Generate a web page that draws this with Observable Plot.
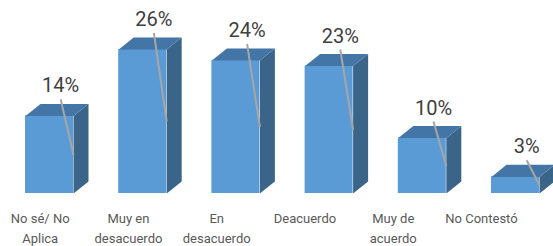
<!DOCTYPE html>
<html>
<head>
<meta charset="utf-8">
<script src="https://cdn.jsdelivr.net/npm/d3@7"></script>
<script src="https://cdn.jsdelivr.net/npm/@observablehq/plot@0.6"></script>
<style>
  html, body { margin: 0; padding: 0; background: #fff; }
  #chart svg { display: block; }
</style>
</head>
<body>
<div id="chart"></div>
<script>
const categories = ["No sé/ No\nAplica", "Muy en\ndesacuerdo", "En\ndesacuerdo", "Deacuerdo", "Muy de\nacuerdo", "No Contestó"];
const values = [14, 26, 24, 23, 10, 3];
const valueLabels = ["14%", "26%", "24%", "23%", "10%", "3%"];

const half = 0.2575;   // half bar width (category units)
const depthX = 0.161;  // 3D depth, category units
const depthY = 2.17;   // 3D depth, percentage points

const rows = values.map((v, i) => ({i, v, cat: categories[i], lab: valueLabels[i]}));

const sides = rows.flatMap(d => [
  {id: d.i, x: d.i + half, y: 0},
  {id: d.i, x: d.i + half + depthX, y: depthY},
  {id: d.i, x: d.i + half + depthX, y: d.v + depthY},
  {id: d.i, x: d.i + half, y: d.v}
]);
const tops = rows.flatMap(d => [
  {id: d.i, x: d.i - half, y: d.v},
  {id: d.i, x: d.i - half + depthX, y: d.v + depthY},
  {id: d.i, x: d.i + half + depthX, y: d.v + depthY},
  {id: d.i, x: d.i + half, y: d.v}
]);

const chart = Plot.plot({
  width: 553,
  height: 246,
  margin: 0,
  style: {fontFamily: "Roboto, sans-serif", background: "#fff"},
  x: {type: "linear", domain: [-0.5, 5.5], range: [2.4, 561.6], axis: null},
  y: {type: "linear", domain: [0, 26], range: [193, 49], axis: null},
  marks: [
    Plot.rect(rows, {x1: d => d.i - half, x2: d => d.i + half, y1: 0, y2: "v", fill: "#5b9bd5"}),
    Plot.line(sides, {x: "x", y: "y", z: "id", fill: "#3a6589", stroke: "none", curve: "linear-closed"}),
    Plot.line(tops, {x: "x", y: "y", z: "id", fill: "#4375a6", stroke: "none", curve: "linear-closed"}),
    Plot.link(rows, {x1: d => d.i + 0.12, y1: d => d.v + 3, x2: d => d.i + half, y2: d => d.v / 2, stroke: "#a6a6a6", strokeWidth: 2}),
    Plot.text(rows, {x: d => d.i + 0.12, y: d => d.v + 3, text: "lab", lineAnchor: "bottom", dy: -7, fontSize: 20, fill: "#404040"}),
    Plot.text(rows, {x: d => d.i * 0.947 - 0.1, y: 0, text: "cat", lineAnchor: "top", dy: 15, fontSize: 13, lineHeight: 1.55, fill: "#595959"})
  ]
});
document.getElementById("chart").appendChild(chart);
</script>
</body>
</html>
